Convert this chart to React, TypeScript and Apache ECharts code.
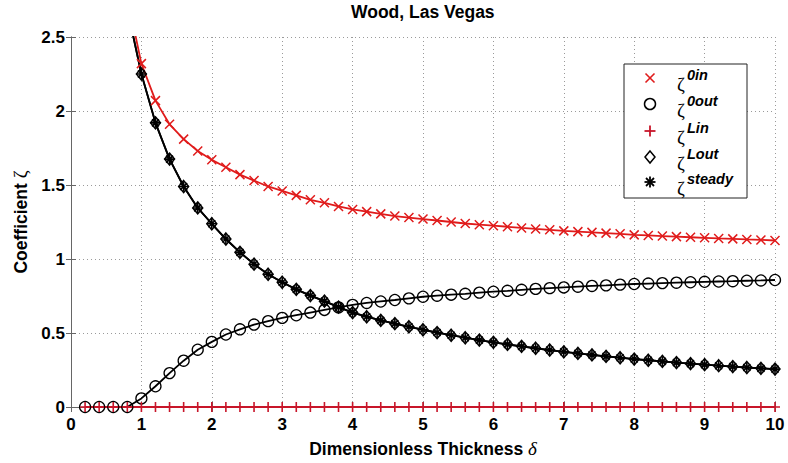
import React, { useEffect, useRef } from "react";
import * as echarts from "echarts";

// Dimensionless thickness samples
const delta = [
  0.2, 0.4, 0.6, 0.8, 1.0, 1.2, 1.4, 1.6, 1.8, 2.0,
  2.2, 2.4, 2.6, 2.8, 3.0, 3.2, 3.4, 3.6, 3.8, 4.0,
  4.2, 4.4, 4.6, 4.8, 5.0, 5.2, 5.4, 5.6, 5.8, 6.0,
  6.2, 6.4, 6.6, 6.8, 7.0, 7.2, 7.4, 7.6, 7.8, 8.0,
  8.2, 8.4, 8.6, 8.8, 9.0, 9.2, 9.4, 9.6, 9.8, 10.0,
];

// ζ^0in
const zeta0in = [
  null, null, null, 2.77, 2.32, 2.07, 1.91, 1.81, 1.73, 1.67,
  1.62, 1.57, 1.53, 1.49, 1.46, 1.43, 1.40, 1.38, 1.355, 1.335,
  1.32, 1.305, 1.29, 1.28, 1.27, 1.26, 1.25, 1.24, 1.232, 1.225,
  1.218, 1.21, 1.203, 1.197, 1.19, 1.185, 1.18, 1.175, 1.17, 1.163,
  1.159, 1.155, 1.151, 1.147, 1.143, 1.139, 1.136, 1.132, 1.129, 1.125,
];

// ζ^0out
const zeta0out = [
  0, 0, 0, 0, 0.058, 0.14, 0.229, 0.313, 0.387, 0.44,
  0.49, 0.525, 0.557, 0.58, 0.602, 0.62, 0.638, 0.656, 0.673, 0.69,
  0.703, 0.713, 0.723, 0.734, 0.745, 0.752, 0.759, 0.765, 0.773, 0.779,
  0.785, 0.792, 0.798, 0.803, 0.808, 0.813, 0.818, 0.822, 0.827, 0.831,
  0.834, 0.837, 0.84, 0.843, 0.846, 0.848, 0.85, 0.853, 0.855, 0.858,
];

// ζ^Lin
const zetaLin = [
  0, 0, 0, 0, 0, 0, 0, 0, 0, 0,
  0, 0, 0, 0, 0, 0, 0, 0, 0, 0,
  0, 0, 0, 0, 0, 0, 0, 0, 0, 0,
  0, 0, 0, 0, 0, 0, 0, 0, 0, 0,
  0, 0, 0, 0, 0, 0, 0, 0, 0, 0,
];

// ζ^Lout
const zetaLout = [
  null, null, null, 2.69, 2.25, 1.92, 1.675, 1.49, 1.345, 1.238,
  1.135, 1.045, 0.965, 0.897, 0.843, 0.795, 0.753, 0.715, 0.675, 0.638,
  0.61, 0.585, 0.563, 0.542, 0.522, 0.503, 0.485, 0.468, 0.452, 0.437,
  0.423, 0.41, 0.397, 0.385, 0.373, 0.362, 0.352, 0.342, 0.333, 0.324,
  0.316, 0.308, 0.3, 0.293, 0.286, 0.279, 0.273, 0.267, 0.261, 0.256,
];

// ζ^steady
const zetaSteady = [
  null, null, null, 2.69, 2.25, 1.92, 1.675, 1.49, 1.345, 1.238,
  1.135, 1.045, 0.965, 0.897, 0.843, 0.795, 0.753, 0.715, 0.675, 0.638,
  0.61, 0.585, 0.563, 0.542, 0.522, 0.503, 0.485, 0.468, 0.452, 0.437,
  0.423, 0.41, 0.397, 0.385, 0.373, 0.362, 0.352, 0.342, 0.333, 0.324,
  0.316, 0.308, 0.3, 0.293, 0.286, 0.279, 0.273, 0.267, 0.261, 0.256,
];

const legendSup = ["0in", "0out", "Lin", "Lout", "steady"];

const RED = "#e01b1b";
const DARK_RED = "#c8162a";
const BLACK = "#000000";
const SANS = 'Arial, "Liberation Sans", Helvetica, sans-serif';
const SERIF = '"Liberation Serif", "Times New Roman", serif';

const SYM_X = "path://M0,0L10,10M10,0L0,10";
const SYM_PLUS = "path://M5,0L5,10M0,5L10,5";
const SYM_STAR = "path://M5,0L5,10M0,5L10,5M1.5,1.5L8.5,8.5M1.5,8.5L8.5,1.5";

const pairs = (ys: (number | null)[]) => delta.map((x, i) => [x, ys[i]]);

const GRID = { left: 71, right: 13, top: 37, bottom: 51 };

function legendGraphics() {
  const bx = 624;
  const by = 64;
  const rows = [78, 104, 131, 157, 182];
  const mx = 650;
  const els: any[] = [
    {
      type: "rect",
      shape: { x: bx, y: by, width: 123, height: 134 },
      style: { fill: "#fff", stroke: "#222", lineWidth: 1 },
      z: 100,
    },
  ];
  const s = 4.5;
  // ×
  els.push(
    { type: "line", shape: { x1: mx - s, y1: rows[0] - s, x2: mx + s, y2: rows[0] + s }, style: { stroke: RED, lineWidth: 1.6 }, z: 101 },
    { type: "line", shape: { x1: mx + s, y1: rows[0] - s, x2: mx - s, y2: rows[0] + s }, style: { stroke: RED, lineWidth: 1.6 }, z: 101 },
  );
  // ○
  els.push({ type: "circle", shape: { cx: mx, cy: rows[1], r: 5.5 }, style: { fill: "none", stroke: BLACK, lineWidth: 1.5 }, z: 101 });
  // +
  els.push(
    { type: "line", shape: { x1: mx, y1: rows[2] - 5.5, x2: mx, y2: rows[2] + 5.5 }, style: { stroke: DARK_RED, lineWidth: 1.8 }, z: 101 },
    { type: "line", shape: { x1: mx - 5.5, y1: rows[2], x2: mx + 5.5, y2: rows[2] }, style: { stroke: DARK_RED, lineWidth: 1.8 }, z: 101 },
  );
  // ◇
  els.push({
    type: "polygon",
    shape: { points: [[mx, rows[3] - 6], [mx + 5, rows[3]], [mx, rows[3] + 6], [mx - 5, rows[3]]] },
    style: { fill: "none", stroke: BLACK, lineWidth: 1.5 },
    z: 101,
  });
  // *
  const a = 5.5;
  const d = 4;
  els.push(
    { type: "line", shape: { x1: mx, y1: rows[4] - a, x2: mx, y2: rows[4] + a }, style: { stroke: BLACK, lineWidth: 1.8 }, z: 101 },
    { type: "line", shape: { x1: mx - a, y1: rows[4], x2: mx + a, y2: rows[4] }, style: { stroke: BLACK, lineWidth: 1.8 }, z: 101 },
    { type: "line", shape: { x1: mx - d, y1: rows[4] - d, x2: mx + d, y2: rows[4] + d }, style: { stroke: BLACK, lineWidth: 1.8 }, z: 101 },
    { type: "line", shape: { x1: mx - d, y1: rows[4] + d, x2: mx + d, y2: rows[4] - d }, style: { stroke: BLACK, lineWidth: 1.8 }, z: 101 },
  );
  rows.forEach((ry, i) => {
    els.push({
      type: "text",
      x: 677,
      y: ry + 6,
      style: { text: "ζ", font: `19px ${SERIF}`, fill: BLACK, align: "left", verticalAlign: "middle" },
      z: 101,
    });
    els.push({
      type: "text",
      x: 687,
      y: ry - 3,
      style: {
        text: legendSup[i],
        font: `italic bold 14.5px ${SANS}`,
        fill: BLACK,
        align: "left",
        verticalAlign: "middle",
      },
      z: 101,
    });
  });
  return els;
}

export default function App() {
  const ref = useRef<HTMLDivElement>(null);

  useEffect(() => {
    document.body.style.margin = "0";
    if (!ref.current) return;
    const chart = echarts.init(ref.current, null, { renderer: "svg" });

    const axisLine = { show: true, lineStyle: { color: "#666", width: 1 } };
    const axisTick = { show: true, inside: true, length: 5, lineStyle: { color: "#666" } };
    const tickLabel = { color: "#000", fontFamily: SANS, fontWeight: "bold", fontSize: 17 };
    const split = { show: true, lineStyle: { color: "#9a9a9a", type: [1, 3], width: 1 } };

    chart.setOption({
      animation: false,
      backgroundColor: "#fff",
      title: {
        text: "Wood, Las Vegas",
        left: 351,
        top: 3,
        padding: 0,
        textStyle: { fontFamily: SANS, fontWeight: "bold", fontSize: 17.5, color: "#000" },
      },
      grid: GRID,
      xAxis: [
        {
          type: "value",
          min: 0,
          max: 10,
          interval: 1,
          axisLine,
          axisTick,
          axisLabel: { ...tickLabel, margin: 9 },
          splitLine: split,
          name: "{b|Dimensionless Thickness }{g|δ}",
          nameLocation: "middle",
          nameGap: 32,
          nameTextStyle: {
            rich: {
              b: { fontFamily: SANS, fontWeight: "bold", fontSize: 17.5, color: "#000" },
              g: { fontFamily: SERIF, fontStyle: "italic", fontSize: 19, color: "#000" },
            },
          },
        },
        {
          type: "value",
          position: "top",
          min: 0,
          max: 10,
          interval: 1,
          axisLine,
          axisTick,
          axisLabel: { show: false },
          splitLine: { show: false },
        },
      ],
      yAxis: [
        {
          type: "value",
          min: 0,
          max: 2.5,
          interval: 0.5,
          axisLine,
          axisTick,
          axisLabel: { ...tickLabel, margin: 6 },
          splitLine: split,
          name: "{b|Coefficient }{g|ζ}",
          nameLocation: "middle",
          nameGap: 40,
          nameTextStyle: {
            rich: {
              b: { fontFamily: SANS, fontWeight: "bold", fontSize: 17.5, color: "#000" },
              g: { fontFamily: SERIF, fontSize: 19, color: "#000" },
            },
          },
        },
        {
          type: "value",
          position: "right",
          min: 0,
          max: 2.5,
          interval: 0.5,
          axisLine,
          axisTick,
          axisLabel: { show: false },
          splitLine: { show: false },
        },
      ],
      series: [
        {
          name: "ζ0in",
          type: "line",
          data: pairs(zeta0in),
          symbol: SYM_X,
          symbolSize: 9,
          showAllSymbol: true,
          clip: true,
          lineStyle: { color: RED, width: 1.8 },
          itemStyle: { color: RED, borderColor: RED, borderWidth: 1.5 },
          emphasis: { disabled: true },
        },
        {
          name: "ζ0out",
          type: "line",
          data: pairs(zeta0out),
          symbol: "circle",
          symbolSize: 11,
          showAllSymbol: true,
          clip: true,
          lineStyle: { color: BLACK, width: 1.8 },
          itemStyle: { color: "rgba(0,0,0,0)", borderColor: BLACK, borderWidth: 1.3 },
          emphasis: { disabled: true },
        },
        {
          name: "ζLin",
          type: "line",
          data: pairs(zetaLin),
          symbol: SYM_PLUS,
          symbolSize: 10,
          showAllSymbol: true,
          clip: false,
          lineStyle: { color: DARK_RED, width: 2 },
          itemStyle: { color: DARK_RED, borderColor: DARK_RED, borderWidth: 1.6 },
          emphasis: { disabled: true },
        },
        {
          name: "ζLout",
          type: "line",
          data: pairs(zetaLout),
          symbol: "diamond",
          symbolSize: [10, 12],
          showAllSymbol: true,
          clip: true,
          lineStyle: { color: BLACK, width: 1.8 },
          itemStyle: { color: "rgba(0,0,0,0)", borderColor: BLACK, borderWidth: 1.5 },
          emphasis: { disabled: true },
        },
        {
          name: "ζsteady",
          type: "line",
          data: pairs(zetaSteady),
          symbol: SYM_STAR,
          symbolSize: 10,
          showAllSymbol: true,
          clip: true,
          lineStyle: { color: BLACK, width: 1.8 },
          itemStyle: { color: BLACK, borderColor: BLACK, borderWidth: 1.6 },
          emphasis: { disabled: true },
        },
      ],
      graphic: legendGraphics(),
    });

    return () => chart.dispose();
  }, []);

  return (
    <div
      ref={ref}
      style={{ position: "absolute", left: 0, top: 0, width: 788, height: 463, background: "#fff" }}
    />
  );
}
